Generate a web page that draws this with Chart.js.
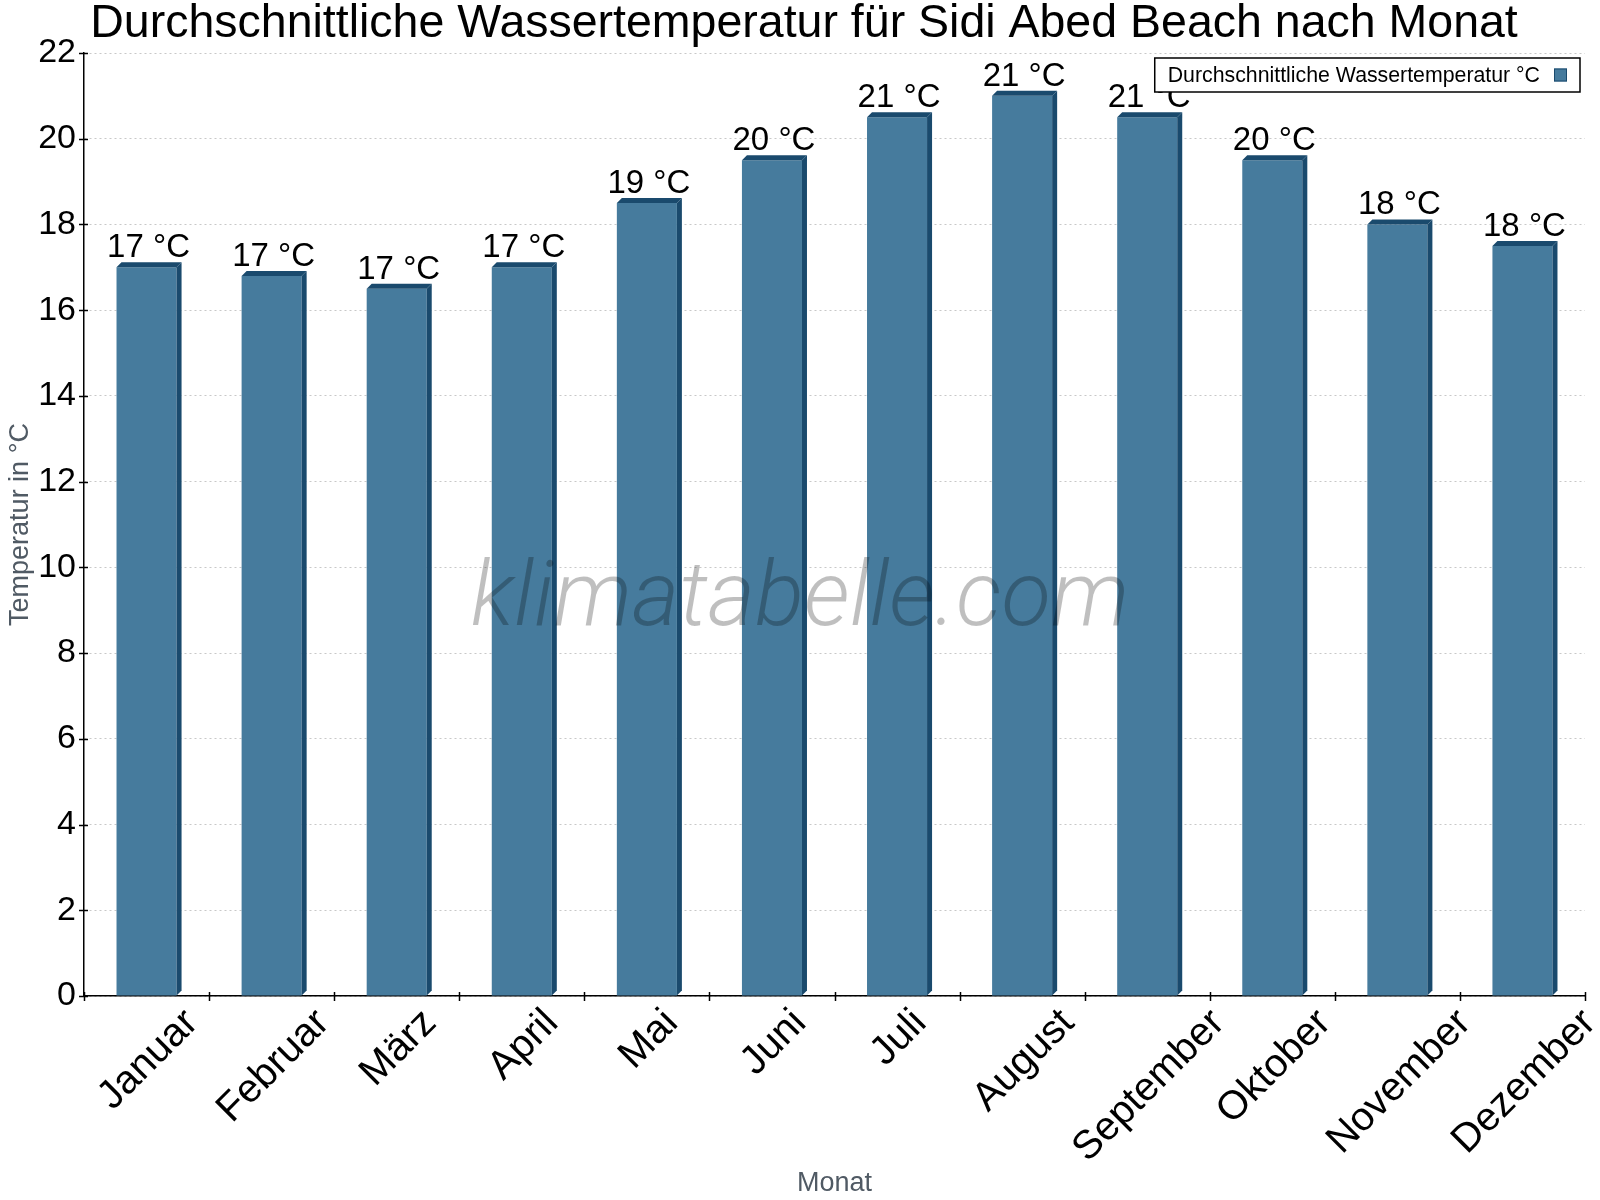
<!DOCTYPE html>
<html>
<head>
<meta charset="utf-8">
<script src="https://cdn.jsdelivr.net/npm/chart.js@4/dist/chart.umd.min.js"></script>
<style>
  html, body { margin: 0; padding: 0; background: #fff; }
  #wrap { width: 1600px; height: 1200px; }
</style>
</head>
<body>
<div id="wrap"><canvas id="chart" width="1600" height="1200"></canvas></div>
<script>
// values
const months = ['Januar', 'Februar', 'März', 'April', 'Mai', 'Juni', 'Juli',
  'August', 'September', 'Oktober', 'November', 'Dezember'];
const waterTemp = [17, 16.8, 16.5, 17, 18.5, 19.5, 20.5, 21, 20.5, 19.5, 18, 17.5];
const yMin = 0;
const yMax = 22;
const yStep = 2;

const seriesLabel = 'Durchschnittliche Wassertemperatur °C';
const chartTitle = 'Durchschnittliche Wassertemperatur für Sidi Abed Beach nach Monat';
const yTitle = 'Temperatur in °C';
const xTitle = 'Monat';
const watermark = 'klimatabelle.com';

const FRONT = '#467b9d';
const DARK = '#1a4a6d';
const FONT = '"Liberation Sans", Arial, sans-serif';
const X_LABEL_SIZE = 40;

// 3d faces, value labels, tick marks, watermark, legend and title
const decoPlugin = {
  id: 'deco',
  afterDatasetsDraw(chart) {
    const ctx = chart.ctx;
    const area = chart.chartArea;
    const meta = chart.getDatasetMeta(0);
    const xs = chart.scales.x;
    const ys = chart.scales.y;
    const d = 5;

    ctx.save();
    meta.data.forEach((bar, i) => {
      const left = bar.x - bar.width / 2;
      const right = bar.x + bar.width / 2;
      ctx.fillStyle = DARK;
      // top face
      ctx.beginPath();
      ctx.moveTo(left, bar.y);
      ctx.lineTo(left + d, bar.y - d);
      ctx.lineTo(right + d, bar.y - d);
      ctx.lineTo(right, bar.y);
      ctx.closePath();
      ctx.fill();
      // side face
      ctx.beginPath();
      ctx.moveTo(right, bar.y);
      ctx.lineTo(right + d, bar.y - d);
      ctx.lineTo(right + d, bar.base - d);
      ctx.lineTo(right, bar.base);
      ctx.closePath();
      ctx.fill();

      // value label
      ctx.fillStyle = '#000';
      ctx.font = '33px ' + FONT;
      ctx.textAlign = 'center';
      ctx.textBaseline = 'alphabetic';
      ctx.fillText(Math.round(waterTemp[i]) + ' °C', bar.x + 2, bar.y - 10);
    });

    // tick marks crossing the axes
    ctx.strokeStyle = '#000';
    ctx.lineWidth = 1.5;
    ctx.beginPath();
    for (let i = 0; i <= months.length; i++) {
      const px = Math.round(xs.getPixelForValue(i - 0.5)) + 0.5;
      ctx.moveTo(px, area.bottom - 4);
      ctx.lineTo(px, area.bottom + 5);
    }
    ys.ticks.forEach(t => {
      const py = Math.round(ys.getPixelForValue(t.value)) + 0.5;
      ctx.moveTo(area.left - 5, py);
      ctx.lineTo(area.left + 4, py);
    });
    ctx.stroke();

    // month labels, rotated 45deg, box centred under each category
    ctx.font = X_LABEL_SIZE + 'px ' + FONT;
    ctx.fillStyle = '#000';
    ctx.textAlign = 'left';
    ctx.textBaseline = 'alphabetic';
    const asc = 0.905 * X_LABEL_SIZE;
    const desc = 0.212 * X_LABEL_SIZE;
    const k = Math.SQRT1_2;
    xs.ticks.forEach((t, i) => {
      const label = xs.getLabelForValue(t.value);
      const w = ctx.measureText(label).width;
      const cx = xs.getPixelForTick(i);
      const top = area.bottom + 3;
      const x0 = cx - k * (w + desc - asc) / 2;
      const y0 = top + k * (w + asc);
      ctx.save();
      ctx.translate(x0, y0);
      ctx.rotate(-Math.PI / 4);
      ctx.fillText(label, 0, 0);
      ctx.restore();
    });

    // watermark
    ctx.fillStyle = 'rgba(0, 0, 0, 0.25)';
    ctx.font = 'italic 300 91px Roboto, sans-serif';
    ctx.textAlign = 'center';
    ctx.textBaseline = 'alphabetic';
    ctx.fillText(watermark, chart.width / 2, 625);

    // legend box inside the plot, top right
    ctx.font = '21.3px ' + FONT;
    const textW = ctx.measureText(seriesLabel).width;
    const pad = 13, sw = 13, gap = 14, h = 34;
    const boxR = area.right - 5;
    const boxT = area.top + 5;
    const boxL = boxR - (pad + textW + gap + sw + pad);
    ctx.fillStyle = '#fff';
    ctx.fillRect(boxL, boxT, boxR - boxL, h);
    ctx.strokeStyle = '#000';
    ctx.lineWidth = 1.5;
    ctx.strokeRect(boxL, boxT, boxR - boxL, h);
    ctx.fillStyle = '#000';
    ctx.textAlign = 'left';
    ctx.textBaseline = 'middle';
    ctx.fillText(seriesLabel, boxL + pad, boxT + h / 2 + 1);
    ctx.fillStyle = FRONT;
    ctx.fillRect(boxR - pad - sw, boxT + (h - sw) / 2, sw, sw);
    ctx.strokeStyle = DARK;
    ctx.lineWidth = 1;
    ctx.strokeRect(boxR - pad - sw + 0.5, boxT + (h - sw) / 2 + 0.5, sw - 1, sw - 1);

    // chart title
    ctx.fillStyle = '#000';
    ctx.font = '46.5px ' + FONT;
    ctx.textAlign = 'center';
    ctx.textBaseline = 'alphabetic';
    ctx.fillText(chartTitle, 804, 37);
    ctx.restore();
  }
};

new Chart(document.getElementById('chart').getContext('2d'), {
  type: 'bar',
  data: {
    labels: months,
    datasets: [{
      label: seriesLabel,
      data: waterTemp,
      backgroundColor: FRONT,
      borderWidth: 0,
      categoryPercentage: 1,
      barPercentage: 0.48
    }]
  },
  options: {
    responsive: false,
    animation: false,
    devicePixelRatio: 1,
    layout: { padding: { left: 0, right: 15, top: 53, bottom: 0 } },
    plugins: {
      legend: { display: false },
      tooltip: { enabled: false },
      title: { display: false }
    },
    scales: {
      x: {
        offset: true,
        grid: { offset: true, drawOnChartArea: false, drawTicks: false },
        border: { color: '#000', width: 1.5 },
        // labels are drawn rotated by the plugin above
        ticks: { display: false },
        afterFit(scale) { scale.height = 204; },
        title: {
          display: true,
          text: xTitle,
          color: '#505a64',
          font: { family: FONT, size: 27 },
          padding: 0
        }
      },
      y: {
        min: yMin,
        max: yMax,
        grid: { color: '#c8c8c8', lineWidth: 1, drawTicks: false },
        border: { color: '#000', width: 1.5, dash: [2, 3] },
        afterFit(scale) { scale.width = 84; },
        ticks: {
          stepSize: yStep,
          color: '#000',
          font: { family: FONT, size: 34 },
          padding: 8
        },
        title: {
          display: true,
          text: yTitle,
          color: '#505a64',
          font: { family: FONT, size: 27 },
          padding: { top: 4, bottom: 0 }
        }
      }
    }
  },
  plugins: [decoPlugin]
});
</script>
</body>
</html>
